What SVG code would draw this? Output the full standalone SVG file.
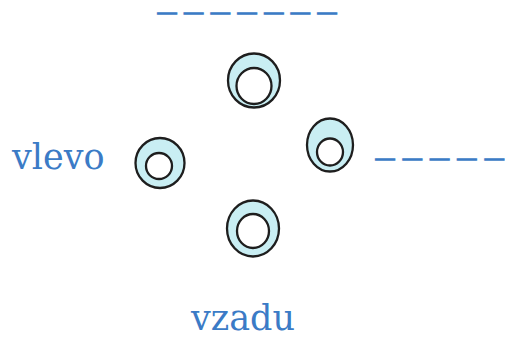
<svg xmlns="http://www.w3.org/2000/svg" width="505" height="337" viewBox="0 0 505 337">
<style>
.lbl{font-family:"DejaVu Serif","Liberation Serif",serif;font-size:35px;fill:#3b7bc6}
.dash{font-family:"Liberation Serif",serif;font-size:12px;fill:#3b7bc6;stroke:#3b7bc6;stroke-width:1.9}
.outer{fill:#c9eef3;stroke:#1e1e1e;stroke-width:2.3}
.inner{fill:#ffffff;stroke:#1e1e1e;stroke-width:2.3}
</style>
<rect width="505" height="337" fill="#ffffff"/>
<g id="top-ring">
<ellipse class="outer" cx="254" cy="80.5" rx="26" ry="27"/>
<ellipse class="inner" cx="254" cy="86" rx="17.5" ry="18"/>
</g>
<g id="left-ring">
<ellipse class="outer" cx="160" cy="163" rx="24.5" ry="25"/>
<ellipse class="inner" cx="159" cy="166" rx="13" ry="13"/>
</g>
<g id="right-ring">
<ellipse class="outer" cx="330" cy="145" rx="23" ry="26.5"/>
<ellipse class="inner" cx="330" cy="152" rx="13" ry="13.5"/>
</g>
<g id="bottom-ring">
<ellipse class="outer" cx="253" cy="228.5" rx="26" ry="28"/>
<ellipse class="inner" cx="253" cy="231" rx="16" ry="17"/>
</g>
<g id="labels">
<text class="dash" transform="translate(159.4,11.5) scale(2.53,1)" x="0 10.55 21.1 31.65 42.2 52.75 63.3">_______</text>
<text class="dash" transform="translate(377.4,157.8) scale(2.53,1)" x="0 10.8 21.6 32.4 43.2">_____</text>
<text class="lbl" x="12" y="169">vlevo</text>
<text class="lbl" x="243" y="330" text-anchor="middle">vzadu</text>
</g>
</svg>
